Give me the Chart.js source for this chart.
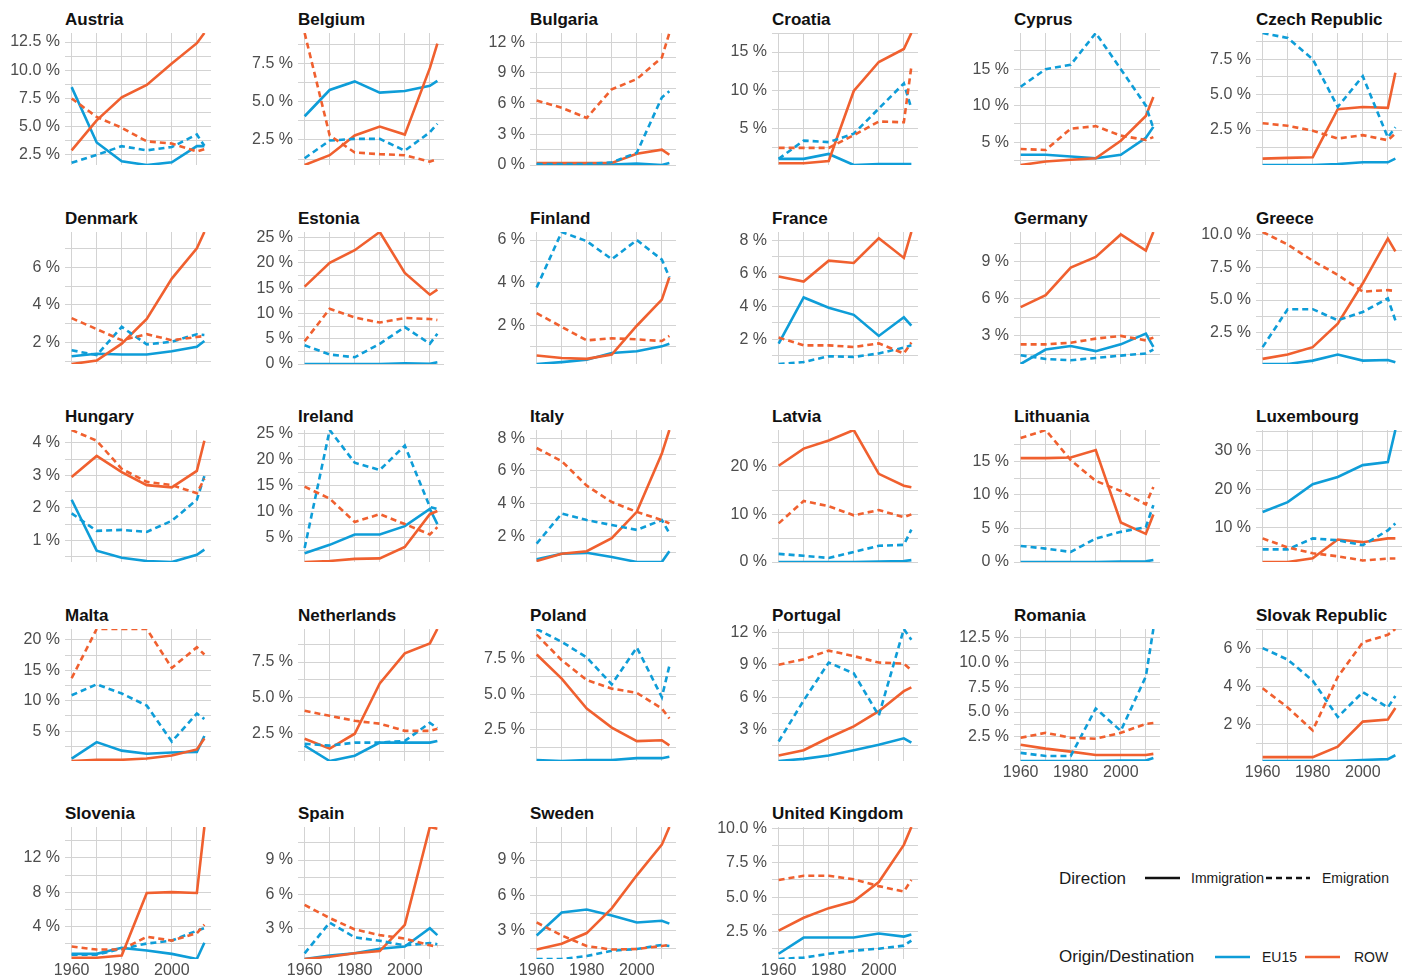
<!DOCTYPE html>
<html>
<head>
<meta charset="utf-8">
<script src="https://cdn.jsdelivr.net/npm/chart.js"></script>
<style>
  body { margin: 0; background: #fff; width: 1413px; height: 977px; position: relative; overflow: hidden;
         font-family: "Liberation Sans", Arial, sans-serif; }
  canvas { position: absolute; }
  .ttl { position: absolute; font-weight: bold; font-size: 17px; line-height: 20px; color: #111; white-space: nowrap; }
  .lg { position: absolute; line-height: 20px; color: #1a1a1a; white-space: nowrap; }
</style>
</head>
<body>
<script>
// values are % of population
const years = [1960, 1970, 1980, 1990, 2000, 2010, 2013];
const countries = ['Austria', 'Belgium', 'Bulgaria', 'Croatia', 'Cyprus', 'Czech Republic',
  'Denmark', 'Estonia', 'Finland', 'France', 'Germany', 'Greece',
  'Hungary', 'Ireland', 'Italy', 'Latvia', 'Lithuania', 'Luxembourg',
  'Malta', 'Netherlands', 'Poland', 'Portugal', 'Romania', 'Slovak Republic',
  'Slovenia', 'Spain', 'Sweden', 'United Kingdom'];

const eu15Imm = [
  [8.5, 3.6, 1.93, 1.6, 1.84, 3.27, 3.27],
  [4.05, 5.77, 6.33, 5.6, 5.7, 6.04, 6.37],
  [0.02, 0.02, 0.02, 0.05, 0.15, 0, 0.2],
  [1.0, 1.0, 1.65, 0.2, 0.33, 0.33, 0.33],
  [3.28, 3.28, 3.05, 2.8, 3.28, 5.6, 7.1],
  [0.03, 0.03, 0.03, 0.1, 0.22, 0.22, 0.48],
  [1.28, 1.41, 1.37, 1.37, 1.55, 1.78, 2.09],
  [0, 0, 0, 0, 0.13, 0.05, 0.33],
  [0.17, 0.26, 0.37, 0.69, 0.77, 1.0, 1.12],
  [1.73, 4.53, 3.91, 3.48, 2.2, 3.33, 2.82],
  [0.73, 1.9, 2.18, 1.77, 2.32, 3.19, 2.12],
  [0.11, 0.11, 0.37, 0.83, 0.37, 0.42, 0.24],
  [2.25, 0.68, 0.46, 0.36, 0.33, 0.55, 0.71],
  [2.0, 3.6, 5.6, 5.6, 7.2, 10.5, 7.6],
  [0.6, 0.94, 1.0, 0.75, 0.44, 0.44, 1.1],
  [0, 0, 0, 0, 0.1, 0.2, 0.4],
  [0, 0, 0, 0, 0.05, 0.1, 0.3],
  [14, 16.6, 21.3, 23.2, 26.3, 27.1, 35.5],
  [0.5, 3.2, 1.8, 1.3, 1.5, 1.6, 4.2],
  [1.67, 0.6, 0.97, 1.88, 1.88, 1.88, 2.0],
  [0.37, 0.3, 0.37, 0.37, 0.5, 0.5, 0.6],
  [0.1, 0.3, 0.6, 1.1, 1.6, 2.2, 1.8],
  [0.05, 0.05, 0.05, 0.05, 0.1, 0.1, 0.36],
  [0.1, 0.1, 0.1, 0.1, 0.15, 0.2, 0.4],
  [0.8, 0.8, 1.5, 1.2, 0.8, 0.2, 2.1],
  [0.3, 0.6, 0.8, 1.2, 1.4, 3.0, 2.4],
  [2.6, 4.55, 4.8, 4.3, 3.7, 3.85, 3.6],
  [0.88, 2.06, 2.06, 2.06, 2.35, 2.13, 2.28]
];

const eu15Emi = [
  [1.79, 2.5, 3.27, 2.9, 3.2, 4.3, 3.3],
  [1.3, 2.46, 2.57, 2.57, 1.8, 3.0, 3.56],
  [0.1, 0.1, 0.1, 0.26, 1.2, 6.6, 7.2],
  [1.0, 3.4, 3.2, 4.3, 7.6, 10.9, 7.6],
  [12.6, 15.0, 15.6, 19.95, 15.0, 10.0, 6.9],
  [9.35, 9.0, 7.5, 4.13, 6.3, 1.97, 2.7],
  [1.6, 1.34, 2.84, 1.91, 2.05, 2.45, 2.41],
  [3.7, 1.87, 1.33, 4.0, 7.3, 4.0, 6.0],
  [3.77, 6.38, 5.95, 5.1, 6.0, 5.08, 4.25],
  [0.5, 0.62, 0.97, 0.93, 1.14, 1.49, 1.63],
  [1.44, 1.14, 1.03, 1.22, 1.41, 1.58, 1.9],
  [1.4, 4.3, 4.3, 3.45, 4.09, 5.12, 3.45],
  [1.83, 1.29, 1.32, 1.26, 1.6, 2.25, 2.98],
  [3.0, 25.7, 19.4, 18, 22.7, 10.9, 10.5],
  [1.56, 3.4, 3.0, 2.7, 2.4, 3.0, 2.2],
  [1.7, 1.3, 0.85, 2.1, 3.4, 3.6, 6.8],
  [2.4, 2.0, 1.5, 3.5, 4.5, 5.2, 8.5],
  [4.2, 4.2, 7.1, 6.6, 5.3, 9.2, 11],
  [10.9, 12.7, 11.2, 9.2, 3.3, 7.9, 7.0],
  [1.8, 1.67, 1.88, 1.88, 2.0, 3.26, 2.9],
  [9.6, 8.7, 7.6, 5.7, 8.3, 4.8, 7.0],
  [1.9, 5.7, 9.2, 8.2, 4.3, 12.3, 11.3],
  [0.87, 0.56, 0.56, 5.36, 3.1, 8.6, 13.4],
  [6.0, 5.4, 4.3, 2.4, 3.7, 2.9, 3.5],
  [0.7, 0.7, 1.4, 2.0, 2.35, 3.5, 3.8],
  [0.8, 3.5, 2.2, 1.9, 1.5, 1.7, 1.6],
  [0.6, 0.6, 0.85, 1.3, 1.45, 1.8, 1.7],
  [0.5, 0.6, 0.88, 1.1, 1.25, 1.47, 1.84]
];

const rowImm = [
  [2.9, 5.56, 7.6, 8.7, 10.6, 12.4, 13.3],
  [0.86, 1.5, 2.79, 3.38, 2.85, 7.2, 8.8],
  [0.2, 0.2, 0.2, 0.2, 1.1, 1.5, 1.0],
  [0.42, 0.42, 0.73, 9.9, 13.7, 15.4, 17.5],
  [1.88, 2.35, 2.6, 2.8, 5.2, 8.6, 11.2],
  [0.48, 0.53, 0.58, 3.97, 4.13, 4.06, 6.54],
  [0.87, 1.05, 1.95, 3.26, 5.4, 7.0, 7.87],
  [15.3, 20, 22.5, 26.1, 18, 13.7, 14.7],
  [0.57, 0.45, 0.41, 0.61, 1.97, 3.2, 4.25],
  [5.8, 5.5, 6.76, 6.62, 8.12, 6.93, 8.5],
  [5.33, 6.29, 8.53, 9.38, 11.2, 9.9, 11.4],
  [0.5, 0.83, 1.4, 3.19, 6.28, 9.7, 8.72],
  [2.95, 3.6, 3.1, 2.7, 2.63, 3.14, 4.07],
  [0.3, 0.5, 0.9, 1.0, 3.2, 9.5, 10.1],
  [0.5, 0.94, 1.1, 1.9, 3.5, 7.06, 8.5],
  [20.2, 23.8, 25.5, 27.7, 18.5, 16, 15.7],
  [15.5, 15.5, 15.6, 16.7, 5.9, 4.2, 7.1],
  [0.9, 0.9, 1.9, 6.8, 6.1, 7.1, 7.1],
  [0.1, 0.3, 0.3, 0.5, 1.0, 2.0, 3.8],
  [2.15, 1.46, 2.5, 6.0, 8.1, 8.8, 9.8],
  [7.8, 6.1, 4.0, 2.65, 1.7, 1.76, 1.4],
  [0.6, 1.1, 2.25, 3.3, 4.7, 6.55, 6.9],
  [1.7, 1.3, 1.0, 0.66, 0.66, 0.66, 0.77],
  [0.3, 0.3, 0.3, 0.85, 2.16, 2.27, 2.87],
  [0.35, 0.35, 0.6, 7.9, 8.0, 7.9, 15.6],
  [0.3, 0.5, 0.8, 1.0, 3.3, 11.9, 11.75],
  [1.4, 1.9, 2.8, 4.9, 7.7, 10.3, 11.8],
  [2.57, 3.5, 4.2, 4.7, 6.1, 8.8, 10.1]
];

const rowEmi = [
  [7.5, 5.86, 4.9, 3.7, 3.5, 2.8, 3.0],
  [9.5, 2.8, 1.68, 1.57, 1.5, 1.08, 1.24],
  [6.3, 5.6, 4.6, 7.4, 8.4, 10.5, 12.9],
  [2.45, 2.45, 2.45, 4.1, 5.9, 5.8, 13.1],
  [4.07, 3.93, 6.86, 7.2, 5.9, 5.3, 5.7],
  [2.98, 2.8, 2.45, 1.9, 2.14, 1.78, 2.26],
  [3.3, 2.72, 2.13, 2.45, 2.13, 2.3, 2.36],
  [4.5, 10.9, 9.2, 8.2, 9.1, 8.9, 8.7],
  [2.56, 1.92, 1.28, 1.38, 1.33, 1.25, 1.49],
  [2.1, 1.63, 1.63, 1.53, 1.75, 1.14, 1.8],
  [2.32, 2.32, 2.45, 2.78, 3.0, 2.64, 2.86],
  [10.2, 9.24, 8.0, 6.92, 5.64, 5.76, 5.69],
  [4.4, 4.07, 3.2, 2.8, 2.7, 2.45, 2.9],
  [14.8, 12.5, 8.0, 9.5, 7.6, 5.6, 7.0],
  [7.4, 6.6, 5.1, 4.1, 3.5, 3.0, 2.8],
  [8.1, 12.8, 11.7, 9.8, 10.9, 9.4, 10],
  [18.5, 19.7, 15.2, 12.1, 10.6, 8.6, 11.2],
  [7.1, 4.7, 3.2, 2.4, 1.3, 1.8, 1.8],
  [13.7, 21.8, 21.8, 21.8, 15.4, 18.8, 17.6],
  [4.1, 3.75, 3.4, 3.2, 2.7, 2.7, 2.85],
  [9.2, 7.4, 6.0, 5.4, 5.1, 4.0, 3.3],
  [9.0, 9.5, 10.3, 9.8, 9.2, 9.1, 8.5],
  [2.4, 2.9, 2.4, 2.3, 2.9, 3.8, 3.9],
  [3.9, 2.9, 1.7, 4.5, 6.3, 6.7, 7.0],
  [1.65, 1.3, 1.3, 2.8, 2.35, 3.2, 4.2],
  [5.05, 3.9, 2.9, 2.4, 2.1, 1.5, 1.4],
  [3.7, 2.6, 1.7, 1.4, 1.45, 1.7, 1.8],
  [6.25, 6.55, 6.55, 6.3, 5.8, 5.4, 6.25]
];

// spacing of the labelled y ticks, one per panel
const yStep = [2.5, 2.5, 3, 5, 5, 2.5, 2, 5, 2, 2, 3, 2.5, 1, 5, 2, 10, 5, 10, 5, 2.5, 2.5, 3, 2.5, 2, 4, 3, 3, 2.5];
const xGrid = [1960, 1970, 1980, 1990, 2000, 2010];
const xLabels = [1960, 1980, 2000];

const blue = '#0e9dd8';
const orange = '#f0602f';
const gridColor = '#d3d3d3';
const tickFont = { family: '"Liberation Sans", Arial, sans-serif', size: 16 };
const tickColor = '#4d4d4d';

const colLeft = [65, 298, 530, 772, 1014, 1256];
const rowTop = [33, 231.5, 430, 628.5, 827];
const panelW = 146, panelH = 132, axisW = 70, pad = 12, xAxisH = 20;

function series(vals, color, dashed) {
  return {
    data: years.map((x, k) => ({ x: x, y: vals[k] })),
    borderColor: color,
    borderWidth: 2.6,
    borderDash: dashed ? [6, 4] : [],
    pointRadius: 0,
    tension: 0,
    fill: false
  };
}

countries.forEach((name, i) => {
  const col = i % 6, row = Math.floor(i / 6);
  const left = colLeft[col], top = rowTop[row];
  const showX = i >= 22;

  const t = document.createElement('div');
  t.className = 'ttl';
  t.textContent = name;
  t.style.left = left + 'px';
  t.style.top = (top - 23) + 'px';
  document.body.appendChild(t);

  const cv = document.createElement('canvas');
  cv.width = axisW + panelW + pad;
  cv.height = pad + panelH + (showX ? xAxisH : 0) + pad;
  cv.style.left = (left - axisW) + 'px';
  cv.style.top = (top - pad) + 'px';
  document.body.appendChild(cv);

  const all = [].concat(eu15Imm[i], eu15Emi[i], rowImm[i], rowEmi[i]);
  const yMin = Math.min(...all), yMax = Math.max(...all);
  const step = yStep[i];
  const isMajor = v => Math.abs(v / step - Math.round(v / step)) < 1e-6;

  new Chart(cv, {
    type: 'line',
    data: {
      datasets: [
        series(rowEmi[i], orange, true),
        series(eu15Emi[i], blue, true),
        series(rowImm[i], orange, false),
        series(eu15Imm[i], blue, false)
      ]
    },
    options: {
      responsive: false,
      animation: false,
      layout: { padding: { top: pad, bottom: pad, left: 0, right: pad } },
      plugins: { legend: { display: false }, tooltip: { enabled: false } },
      scales: {
        x: {
          type: 'linear',
          min: 1957.35,
          max: 2015.65,
          border: { display: false },
          grid: { color: gridColor, lineWidth: 1, drawTicks: false },
          ticks: {
            display: showX, padding: 2, autoSkip: false, maxRotation: 0,
            font: tickFont, color: tickColor,
            callback: v => xLabels.includes(v) ? String(v) : ''
          },
          afterBuildTicks: s => { s.ticks = xGrid.map(v => ({ value: v })); },
          afterFit: s => { s.paddingLeft = 0; s.paddingRight = 0; if (showX) s.height = xAxisH; }
        },
        y: {
          type: 'linear',
          min: yMin,
          max: yMax,
          border: { display: false },
          grid: { color: gridColor, lineWidth: 1, drawTicks: false },
          ticks: {
            padding: 5, autoSkip: false, font: tickFont, color: tickColor,
            callback: v => isMajor(v) ? (step % 1 ? v.toFixed(1) : v.toFixed(0)) + ' %' : ''
          },
          afterBuildTicks: s => {
            const half = step / 2, ticks = [];
            for (let k = Math.ceil(yMin / half - 1e-9); k * half <= yMax + 1e-9; k++) ticks.push({ value: +(k * half).toFixed(4) });
            s.ticks = ticks;
          },
          afterFit: s => { s.width = axisW; s.paddingTop = 0; s.paddingBottom = 0; }
        }
      }
    }
  });
});
</script>

<div class="lg" style="left:1059px; top:869px; font-size:17px;">Direction</div>
<div class="lg" style="left:1191px; top:868px; font-size:14px;">Immigration</div>
<div class="lg" style="left:1322px; top:868px; font-size:14px;">Emigration</div>
<div class="lg" style="left:1059px; top:947px; font-size:17px;">Origin/Destination</div>
<div class="lg" style="left:1262px; top:947px; font-size:14px;">EU15</div>
<div class="lg" style="left:1354px; top:947px; font-size:14px;">ROW</div>
<svg style="position:absolute; left:0; top:0;" width="1413" height="977">
  <line x1="1145" y1="878" x2="1180" y2="878" stroke="#111" stroke-width="2.6"/>
  <line x1="1266" y1="878" x2="1310" y2="878" stroke="#111" stroke-width="2.6" stroke-dasharray="6 4"/>
  <line x1="1215" y1="957" x2="1250" y2="957" stroke="#0e9dd8" stroke-width="2.6"/>
  <line x1="1305" y1="957" x2="1340" y2="957" stroke="#f0602f" stroke-width="2.6"/>
</svg>
</body>
</html>
